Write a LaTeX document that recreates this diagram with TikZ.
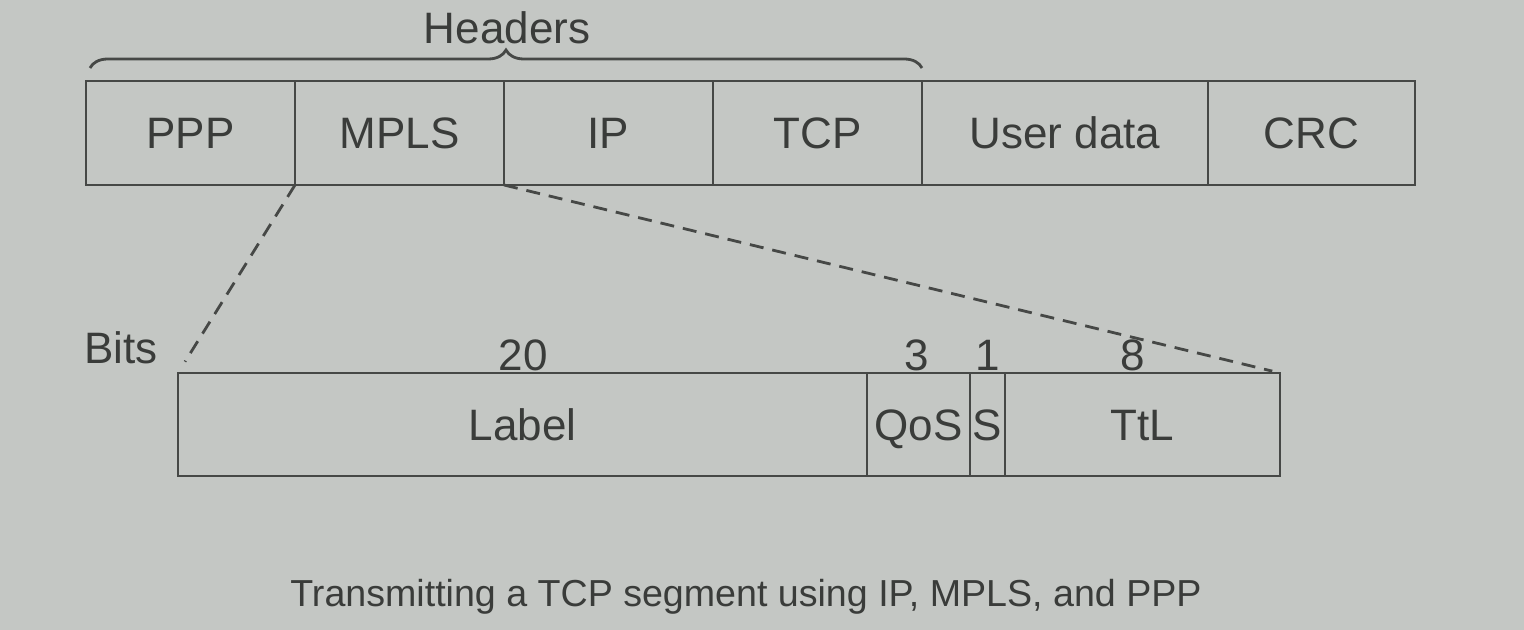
\documentclass[tikz,border=0pt]{standalone}
\usepackage{fontspec}
\setmainfont{Liberation Sans}
\usetikzlibrary{decorations.pathreplacing,calc}
\definecolor{bg}{RGB}{196,199,196}
\definecolor{ink}{RGB}{70,72,70}
\definecolor{txt}{RGB}{58,60,58}
\begin{document}
\begin{tikzpicture}[x=0.5pt,y=-0.5pt,
  field/.style={draw=ink, line width=1.4pt, inner sep=0pt, outer sep=0pt, anchor=north west,
    text=txt, font=\fontsize{22}{26}\selectfont, text height=15.8pt, text depth=0pt, minimum height=52pt},
  lbl/.style={text=txt, font=\fontsize{22}{26}\selectfont, inner sep=0pt, text height=15.8pt, text depth=0pt},
  zoomline/.style={draw=ink, line width=1.4pt, dash pattern=on 7pt off 4.5pt}]
\fill[bg] (0,0) rectangle (1524,630);
\useasboundingbox (0,0) rectangle (1524,630);
% top row
\node[field, minimum width=104.5pt] (ppp) at (86,81) {PPP};
\node[field, minimum width=104.5pt] (mpls) at (295,81) {MPLS};
\node[field, minimum width=104.5pt] (ip) at (504,81) {IP};
\node[field, minimum width=104.5pt] (tcp) at (713,81) {TCP};
\node[field, minimum width=143pt] (user) at (922,81) {User data};
\node[field, minimum width=103.5pt] (crc) at (1208,81) {CRC};
% brace
\coordinate (bl) at (90,68);
\coordinate (br) at (922,68);
\draw[ink, line width=1.4pt, decorate, decoration={brace, amplitude=9pt}] (bl) -- (br);
\node[lbl] (headers) at (507,28) {Headers};
% bottom row
\node[field, minimum width=344.5pt, minimum height=51.5pt] (label) at (178,373) {Label};
\node[field, minimum width=51.5pt, minimum height=51.5pt] (qos) at (867,373) {QoS};
\node[field, minimum width=17.5pt, minimum height=51.5pt] (s) at (970,373) {S};
\node[field, minimum width=137.5pt, minimum height=51.5pt] (ttl) at (1005,373) {TtL};
% bit counts
\node[lbl] (b20) at (523,355) {20};
\node[lbl] (b3) at (917,355) {3};
\node[lbl] (b1) at (988,355) {1};
\node[lbl] (b8) at (1133,355) {8};
\node[lbl] (bits) at (121,348) {Bits};
% zoom lines
\draw[zoomline] (mpls.south west) -- ($(mpls.south west)!0.94!(label.north west)$);
\draw[zoomline] (ip.south west) -- ($(ip.south west)!0.99!(ttl.north east)$);
% caption
\node[lbl, font=\fontsize{18.8}{22}\selectfont, text height=13.5pt] (caption) at (746,593) {Transmitting a TCP segment using IP, MPLS, and PPP};
\end{tikzpicture}
\end{document}
